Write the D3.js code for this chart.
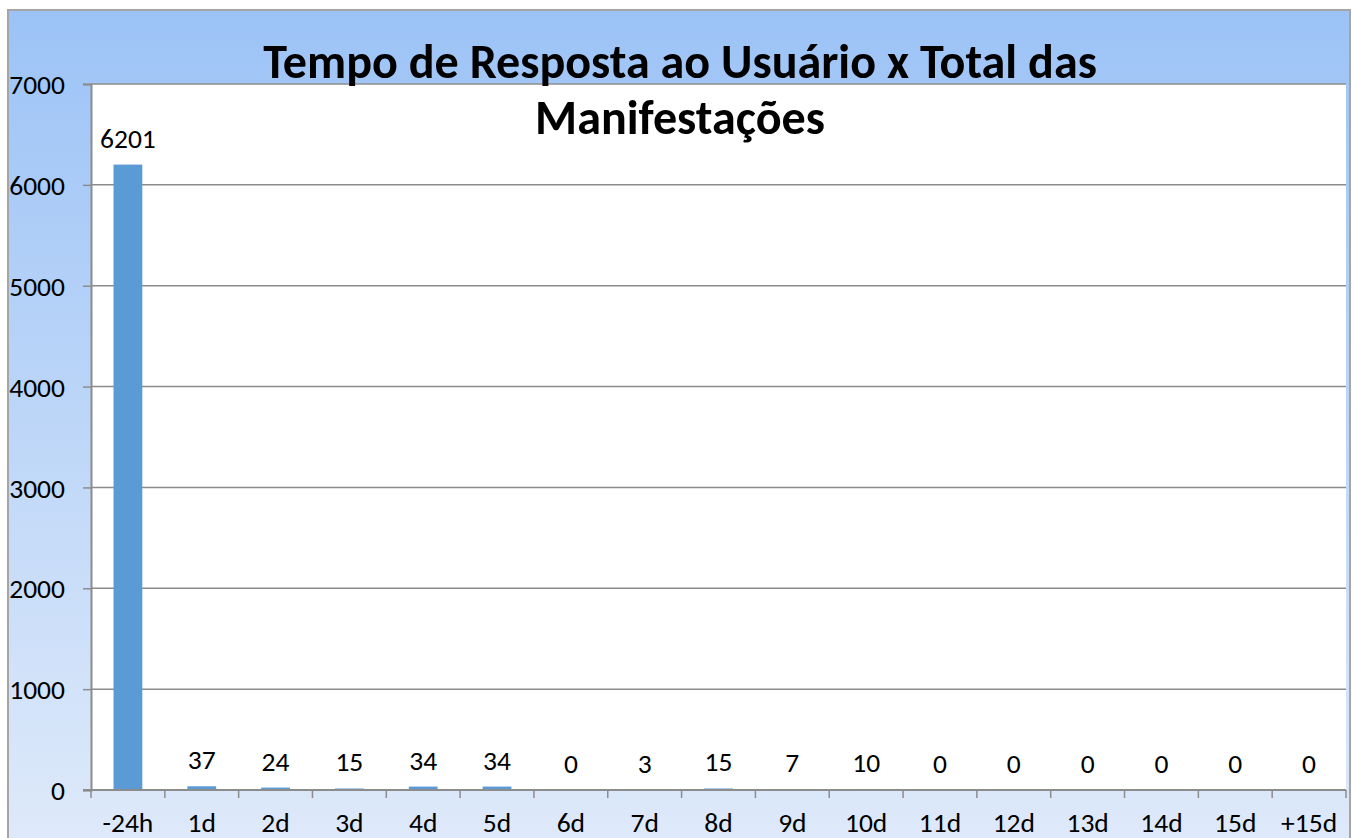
<!DOCTYPE html>
<html>
<head>
<meta charset="utf-8">
<script src="https://cdn.jsdelivr.net/npm/d3@7"></script>
<style>
  body { margin: 0; background: #fff; }
  svg text { font-family: Calibri, Carlito, Lato, "Open Sans", sans-serif; }
</style>
</head>
<body>
<svg id="chart"></svg>
<script>
// categories and values
const categories = ["-24h", "1d", "2d", "3d", "4d", "5d", "6d", "7d", "8d", "9d", "10d", "11d", "12d", "13d", "14d", "15d", "+15d"];
const values = [6201, 37, 24, 15, 34, 34, 0, 3, 15, 7, 10, 0, 0, 0, 0, 0, 0];
const yTicks = [0, 1000, 2000, 3000, 4000, 5000, 6000, 7000];
const titleLines = ["Tempo de Resposta ao Usuário x Total das", "Manifestações"];

const width = 1353, height = 838;
const margin = { top: 84, right: 7, bottom: 48, left: 91 };
const fs = 27.5;

const svg = d3.select("#chart")
  .attr("width", width)
  .attr("height", height);

// background gradient of the chart area
const grad = svg.append("defs").append("linearGradient")
  .attr("id", "bg")
  .attr("x1", 0).attr("y1", 0).attr("x2", 0).attr("y2", 1);
grad.append("stop").attr("offset", "0%").attr("stop-color", "#9cc3f6");
grad.append("stop").attr("offset", "100%").attr("stop-color", "#dfeafa");

svg.append("rect")
  .attr("x", 8).attr("y", 10)
  .attr("width", 1342).attr("height", 840)
  .attr("fill", "url(#bg)")
  .attr("stroke", "#a5a5a5")
  .attr("stroke-width", 2);

const x = d3.scaleBand()
  .domain(categories)
  .range([margin.left, width - margin.right])
  .paddingInner(0.61)
  .paddingOuter(0.305);

const y = d3.scaleLinear()
  .domain([0, 7000])
  .range([height - margin.bottom, margin.top]);

// plot area
svg.append("rect")
  .attr("x", margin.left).attr("y", margin.top)
  .attr("width", width - margin.right - margin.left)
  .attr("height", y(0) - margin.top)
  .attr("fill", "#fff");

// gridlines + y axis
const yAxis = svg.append("g")
  .attr("transform", `translate(${margin.left},0)`)
  .call(d3.axisLeft(y).tickValues(yTicks).tickFormat(d3.format("d")).tickSize(8).tickPadding(18));
yAxis.select(".domain").attr("stroke", "#8c8c8c").attr("stroke-width", 2);
yAxis.selectAll(".tick line").attr("stroke", "#8c8c8c").attr("stroke-width", 1.5);
yAxis.selectAll(".tick text")
  .attr("font-size", fs)
  .attr("fill", "#000")
  .attr("dy", "0.35em");

svg.append("g")
  .selectAll("line")
  .data(yTicks.filter(d => d > 0))
  .join("line")
  .attr("x1", margin.left).attr("x2", width - margin.right)
  .attr("y1", d => y(d)).attr("y2", d => y(d))
  .attr("stroke", "#8c8c8c")
  .attr("stroke-width", 1.5);

// bars
svg.append("g")
  .selectAll("rect")
  .data(values)
  .join("rect")
  .attr("x", (d, i) => x(categories[i]))
  .attr("y", d => y(d))
  .attr("width", x.bandwidth())
  .attr("height", d => y(0) - y(d))
  .attr("fill", "#5b9bd5");

// value labels
svg.append("g")
  .selectAll("text")
  .data(values)
  .join("text")
  .attr("x", (d, i) => x(categories[i]) + x.bandwidth() / 2)
  .attr("y", d => y(d) - 17)
  .attr("text-anchor", "middle")
  .attr("font-size", fs)
  .text(d => d);

// x axis with ticks at band boundaries
const step = x.step();
const xAxisG = svg.append("g").attr("transform", `translate(0,${y(0)})`);
xAxisG.append("line")
  .attr("x1", margin.left - 8).attr("x2", width - margin.right)
  .attr("stroke", "#8c8c8c").attr("stroke-width", 2);
xAxisG.selectAll(".tk")
  .data(d3.range(categories.length + 1))
  .join("line")
  .attr("class", "tk")
  .attr("x1", i => margin.left + i * step)
  .attr("x2", i => margin.left + i * step)
  .attr("y1", 0).attr("y2", 8)
  .attr("stroke", "#8c8c8c").attr("stroke-width", 1.5);
xAxisG.selectAll(".lbl")
  .data(categories)
  .join("text")
  .attr("class", "lbl")
  .attr("x", d => x(d) + x.bandwidth() / 2)
  .attr("y", 42)
  .attr("text-anchor", "middle")
  .attr("font-size", fs)
  .text(d => d);

// title
const title = svg.append("text")
  .attr("text-anchor", "middle")
  .attr("font-weight", "bold")
  .attr("font-size", 42);
title.selectAll("tspan")
  .data(titleLines)
  .join("tspan")
  .attr("x", 680)
  .attr("y", (d, i) => 78 + i * 56)
  .text(d => d);

// fit first title line to the width seen in the picture
const w = title.select("tspan").node().getComputedTextLength();
title.attr("font-size", 42 * 834 / w);
</script>
</body>
</html>
